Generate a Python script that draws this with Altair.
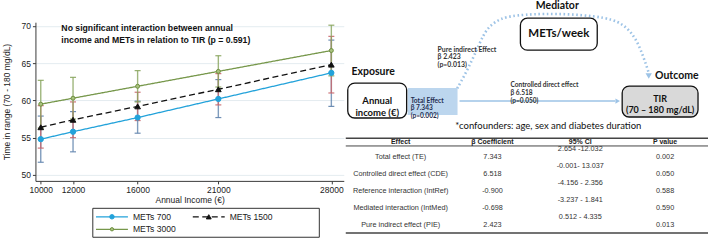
import altair as alt
import pandas as pd

# ---------------- values ----------------
income = [10000, 12000, 16000, 21000, 28000]
series = ["METs 700", "METs 1500", "METs 3000"]

tir_700 = [54.8, 55.8, 57.7, 60.2, 63.7]
low_700 = [51.7, 53.1, 55.6, 57.7, 59.2]
high_700 = [57.9, 58.5, 59.9, 62.8, 68.1]

tir_1500 = [56.4, 57.4, 59.2, 61.5, 64.8]
low_1500 = [53.6, 55.0, 57.3, 59.4, 61.0]
high_1500 = [59.3, 59.8, 61.1, 63.6, 68.6]

tir_3000 = [59.5, 60.3, 61.9, 63.9, 66.7]
low_3000 = [56.3, 57.5, 59.8, 61.8, 63.3]
high_3000 = [62.7, 63.1, 64.0, 66.0, 70.1]

y_ticks = [50, 55, 60, 65, 70]

note = "No significant interaction between annual\nincome and METs in relation to TIR (p = 0.591)"

table_header = ["Effect", "β Coefficient", "95% CI", "P value"]
effects = [
    "Total effect (TE)",
    "Controlled direct effect (CDE)",
    "Reference interaction (IntRef)",
    "Mediated interaction (IntMed)",
    "Pure indirect effect (PIE)",
]
beta = [7.343, 6.518, -0.900, -0.698, 2.423]
ci_text = ["2.654 -12.032", "-0.001- 13.037", "-4.156 - 2.356", "-3.237 - 1.841", "0.512 - 4.335"]
p_values = ["0.002", "0.050", "0.588", "0.590", "0.013"]

# ---------------- styles ----------------
ARIAL = "Liberation Sans"
SANS = "Lato"
line_colors = ["#22a2da", "#111111", "#76974a"]
ci_colors = ["#5f83ad", "#c9676c", "#87a45c"]
point_fill = ["#22a2da", "#111111", "#a9c27f"]
point_stroke = ["#22a2da", "#111111", "#6d8f3f"]
point_shape = ["circle", "triangle-up", "circle"]
point_size = [28, 32, 16]
legend_size = [20, 24, 11]
dashes = [[1, 0], [6, 3.5], [1, 0]]
arrow_blue = "#9dc3e6"

means = [tir_700, tir_1500, tir_3000]
lows = [low_700, low_1500, low_3000]
highs = [high_700, high_1500, high_3000]

# ---------------- left: predicted TIR by income ----------------
axis_style = dict(
    domainColor="#3a3a3a", tickColor="#3a3a3a", labelColor="#222222", titleColor="#222222",
    labelFont=ARIAL, titleFont=ARIAL, labelFontSize=8.5, titleFontSize=8.5,
    titleFontWeight="normal", tickSize=3, labelPadding=2, domainWidth=1,
)
x_scale = alt.Scale(domain=[9670, 28770], nice=False, zero=False)
y_scale = alt.Scale(domain=[49.2, 70.5], nice=False, zero=False)
x_axis = alt.Axis(values=income, format="d", title="Annual Income (€)", grid=False,
                  titlePadding=1, **axis_style)
y_axis = alt.Axis(values=y_ticks, title="Time in range (70 - 180 mg/dL)", grid=True,
                  gridColor="#e4ecf0", labelAngle=0, titlePadding=9.5, **axis_style)


def X():
    return alt.X("income:Q", scale=x_scale, axis=x_axis)


def Y(field):
    return alt.Y(f"{field}:Q", scale=y_scale, axis=y_axis)


def frame(i):
    return pd.DataFrame({"income": income, "tir": means[i], "lo": lows[i], "hi": highs[i]})


ci_layers, line_layers, point_layers = [], [], []
for i in range(3):
    base = alt.Chart(frame(i))
    c = ci_colors[i]
    ci_layers.append(base.mark_rule(color=c, strokeWidth=1.4, opacity=0.8)
                     .encode(x=X(), y=Y("lo"), y2="hi:Q"))
    ci_layers.append(base.mark_tick(orient="horizontal", color=c, size=6, thickness=1.2, opacity=0.9)
                     .encode(x=X(), y=Y("lo")))
    ci_layers.append(base.mark_tick(orient="horizontal", color=c, size=6, thickness=1.2, opacity=0.9)
                     .encode(x=X(), y=Y("hi")))
    line_layers.append(base.mark_line(color=line_colors[i], strokeWidth=1.3, strokeDash=dashes[i])
                       .encode(x=X(), y=Y("tir")))
    point_layers.append(base.mark_point(shape=point_shape[i], size=point_size[i], filled=True,
                                        fill=point_fill[i], stroke=point_stroke[i],
                                        strokeWidth=1, opacity=1)
                        .encode(x=X(), y=Y("tir")))

note_layer = alt.Chart(pd.DataFrame({"t": [note]})).mark_text(
    align="left", baseline="top", lineBreak="\n", lineHeight=12, font=ARIAL,
    fontSize=8.7, fontWeight="bold", color="#111111",
).encode(x=alt.value(26), y=alt.value(1.5), text="t:N")

plot = alt.layer(*ci_layers, *line_layers, *point_layers, note_layer).properties(width=309, height=159)

# ---------------- left: legend ----------------
lx = alt.Scale(domain=[0, 227], nice=False, zero=False)
ly = alt.Scale(domain=[0, 29], nice=False, zero=False, reverse=True)

legend_layers = []
for i, name in enumerate(series):
    col, row = i % 2, i // 2
    x0 = 3.7 + col * 97
    d = pd.DataFrame({"series": [name], "x0": [x0], "x1": [x0 + 32], "xm": [x0 + 16],
                      "xt": [x0 + 37], "y": [9 + row * 12.5]})
    b = alt.Chart(d)
    legend_layers.append(b.mark_rule(strokeWidth=1.3, color=line_colors[i], strokeDash=dashes[i]).encode(
        x=alt.X("x0:Q", scale=lx, axis=None), x2="x1:Q", y=alt.Y("y:Q", scale=ly, axis=None)))
    legend_layers.append(b.mark_point(shape=point_shape[i], size=legend_size[i], filled=True,
                                      fill=point_fill[i], stroke=point_stroke[i], strokeWidth=1,
                                      opacity=1).encode(
        x=alt.X("xm:Q", scale=lx, axis=None), y=alt.Y("y:Q", scale=ly, axis=None)))
    legend_layers.append(b.mark_text(align="left", baseline="middle", font=ARIAL, fontSize=8.6,
                                     color="#222222").encode(
        x=alt.X("xt:Q", scale=lx, axis=None), y=alt.Y("y:Q", scale=ly, axis=None), text="series:N"))

legend_chart = alt.layer(*legend_layers).properties(
    width=227, height=29, view=alt.ViewBackground(stroke="#333333", strokeWidth=1))


def spacer(w, h):
    return alt.Chart(pd.DataFrame({"v": [0]})).mark_point(opacity=0, size=0).encode(
        x=alt.X("v:Q", axis=None), y=alt.Y("v:Q", axis=None)).properties(width=w, height=h)


legend_row = alt.hconcat(spacer(57, 29), legend_chart, spacing=0, bounds="flush")
left_inner = alt.vconcat(plot, legend_row, spacing=27, bounds="flush")
left_col = alt.vconcat(spacer(309, 22), left_inner, spacing=0, bounds="flush")

# ---------------- right: mediation diagram and table ----------------
RW, RH = 364, 248
rx = alt.Scale(domain=[0, RW], nice=False, zero=False)
ry = alt.Scale(domain=[0, RH], nice=False, zero=False, reverse=True)


def PX(f="x"):
    return alt.X(f"{f}:Q", scale=rx, axis=None)


def PY(f="y"):
    return alt.Y(f"{f}:Q", scale=ry, axis=None)


def texts(df, **kw):
    return alt.Chart(df).mark_text(**kw).encode(x=PX(), y=PY(), text="t:N")


boxes = pd.DataFrame({
    "x": [175, 2, 277], "x2": [252, 61, 353],
    "y": [18, 83, 86], "y2": [50, 118, 117],
    "fill": ["#ffffff", "#ffffff", "#d9d9d9"],
})
box_layer = alt.Chart(boxes).mark_rect(cornerRadius=7, stroke="#111111", strokeWidth=1.3).encode(
    x=PX(), x2="x2:Q", y=PY(), y2="y2:Q", fill=alt.Fill("fill:N", scale=None))

te_box = alt.Chart(pd.DataFrame({"x": [62], "x2": [112], "y": [88], "y2": [115]})).mark_rect(
    color="#bcd6ee").encode(x=PX(), x2="x2:Q", y=PY(), y2="y2:Q")

direct = alt.Chart(pd.DataFrame({"x": [114], "x2": [270], "y": [101]})).mark_rule(
    color=arrow_blue, strokeWidth=1.6).encode(x=PX(), x2="x2:Q", y=PY())
direct_head = alt.Chart(pd.DataFrame({"x": [272.5], "y": [101]})).mark_point(
    shape="triangle-right", filled=True, color=arrow_blue, size=28, opacity=1).encode(x=PX(), y=PY())

arc_pts = pd.DataFrame({
    "i": list(range(13)),
    "x": [111.7, 118.3, 128.3, 138.3, 145, 155, 168.3, 208.3, 265, 281.7, 291.7, 298.3, 303.3],
    "y": [88.3, 76.7, 56.7, 33.3, 25, 18.3, 15, 12.7, 16.7, 26.7, 40, 56.7, 71.7],
})
arc = alt.Chart(arc_pts).mark_line(
    interpolate="basis", color=arrow_blue, strokeWidth=2.6, strokeDash=[1.6, 2.6]).encode(
    x=PX(), y=PY(), order="i:Q")
arc_head = alt.Chart(pd.DataFrame({"x": [303.6], "y": [76]})).mark_point(
    shape="triangle-down", filled=True, color=arrow_blue, size=40, opacity=1).encode(x=PX(), y=PY())

heads = texts(pd.DataFrame({"t": ["Mediator", "Exposure", "Outcome"],
                            "x": [212, 27.5, 331.7], "y": [6, 72, 76]}),
              font=SANS, fontSize=10.5, fontWeight="bold", color="#111111", baseline="middle")
mets_label = texts(pd.DataFrame({"t": ["METs/week"], "x": [213.5], "y": [34]}),
                   font=SANS, fontSize=11.5, fontWeight="bold", color="#111111", baseline="middle")
income_label = texts(pd.DataFrame({"t": ["Annual\nincome (€)"], "x": [31.5], "y": [100.5]}),
                     font=SANS, fontSize=9.5, fontWeight="bold", color="#111111", baseline="middle",
                     lineBreak="\n", lineHeight=12)
tir_label = texts(pd.DataFrame({"t": ["TIR\n(70 – 180 mg/dL)"], "x": [315], "y": [99]}),
                  font=SANS, fontSize=9, fontWeight="bold", color="#111111", baseline="middle",
                  lineBreak="\n", lineHeight=11)

te_label = texts(pd.DataFrame({"t": [f"Total Effect\nβ  {beta[0]:.3f}\n(p={p_values[0]})"],
                               "x": [65], "y": [100.7]}),
                 font=SANS, fontSize=6.6, fontWeight="bold", color="#1f2d50", align="left",
                 baseline="middle", lineBreak="\n", lineHeight=7.5)
pie_label = texts(pd.DataFrame({"t": [f"Pure indirect Effect\nβ {beta[4]:.3f}\n(p={p_values[4]})"],
                                "x": [92], "y": [49.5]}),
                  font=SANS, fontSize=6.9, fontWeight="bold", color="#333333", align="left",
                  baseline="middle", lineBreak="\n", lineHeight=7.7)
cde_label = texts(pd.DataFrame({"t": [f"Controlled direct effect\nβ  {beta[1]:.3f}\n (p={p_values[1]})"],
                                "x": [165], "y": [85]}),
                  font=SANS, fontSize=6.6, fontWeight="bold", color="#333333", align="left",
                  baseline="middle", lineBreak="\n", lineHeight=8)
footnote = texts(pd.DataFrame({"t": ["*confounders: age, sex and diabetes duration"], "x": [203], "y": [126]}),
                 font=SANS, fontSize=9.5, color="#111111", baseline="middle")

# table layout
col_x = [55, 147, 235, 320]
row_top, row_step, ci_shift = 156.7, 17.1, 7.6

rules = alt.Chart(pd.DataFrame({"x": [0, 0, 0], "x2": [363, 363, 363], "y": [138.3, 146, 233.3],
                                "w": [1.5, 1.0, 1.5]})).mark_rule(color="#444444").encode(
    x=PX(), x2="x2:Q", y=PY(), strokeWidth=alt.StrokeWidth("w:Q", scale=None))

hdr = texts(pd.DataFrame({"t": table_header, "x": col_x, "y": [142] * 4}),
            font=ARIAL, fontSize=7.0, fontWeight="bold", color="#222222", baseline="middle")

body_rows = []
for i in range(len(effects)):
    yy = row_top + i * row_step
    body_rows.append({"t": effects[i], "x": col_x[0], "y": yy})
    body_rows.append({"t": f"{beta[i]:.3f}", "x": col_x[1], "y": yy})
    body_rows.append({"t": ci_text[i], "x": col_x[2], "y": yy - ci_shift})
    body_rows.append({"t": p_values[i], "x": col_x[3], "y": yy})
body = texts(pd.DataFrame(body_rows), font=ARIAL, fontSize=7.3, color="#333333", baseline="middle")

right = alt.layer(
    arc, arc_head, te_box, direct, direct_head, box_layer,
    heads, mets_label, income_label, tir_label, te_label, pie_label, cde_label, footnote,
    rules, hdr, body,
).properties(width=RW, height=RH)

chart = alt.hconcat(left_col, right, spacing=1).properties(
    padding={"left": 2.5, "top": 0, "right": 0, "bottom": 0},
    background="white",
).configure_view(stroke=None)

chart.save("out.html", embed_options={"renderer": "svg", "actions": False})
